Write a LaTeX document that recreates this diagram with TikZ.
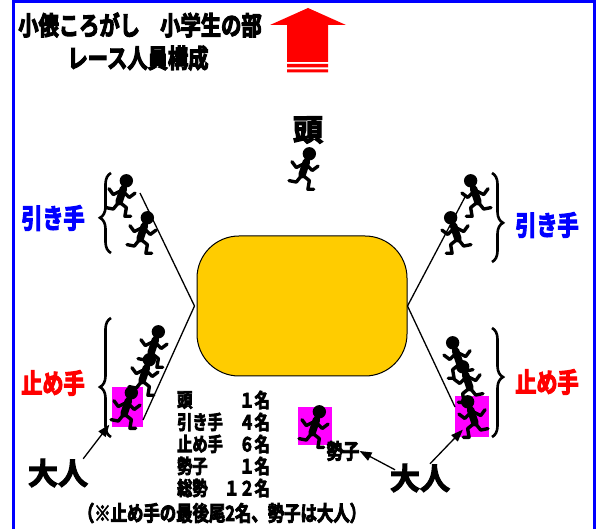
\documentclass[tikz,border=0pt]{standalone}
\usepackage{fontspec}
\newfontfamily\jp{Noto Sans CJK JP Bold}[FakeBold=4]
\newfontfamily\jpn{Noto Sans CJK JP Bold}[FakeStretch=0.78,FakeBold=4]
\usetikzlibrary{arrows.meta,decorations.pathreplacing}
\definecolor{tawara}{RGB}{255,204,0}
\definecolor{sekopink}{RGB}{255,0,255}
\tikzset{
	runner/.pic={
		\fill (3,-10.5) circle (4.6pt);
		\draw[line width=7.5pt,line cap=round] (1,-5) -- (-2,4);
		\draw[line width=3.4pt,line join=round,line cap=round]
			(0,-4) -- (-6,-1) -- (-9,-5)
			(0,-4) -- (5,1) -- (9,-2)
			(-2,4) -- (3,8) -- (2,14) -- (6,14)
			(-2,4) -- (-6,9) -- (-11,8);
	},
	bracket/.style={decorate,decoration={brace,amplitude=11pt,aspect=#1},line width=2.6pt},
	pinkbox/.style={fill=sekopink,inner sep=0pt},
	rope/.style={line width=1.3pt},
	pointer/.style={line width=1.3pt,-{Triangle[length=12pt,width=9pt]}},
}
\begin{document}
\begin{tikzpicture}[x=1pt,y=-1pt]
				\useasboundingbox (0,0) rectangle (600,529);
				%frame
				\draw[blue,line width=3pt] (13,529) -- (13,1.5) -- (594,1.5) -- (594,529);
				
				%title
				\node[font=\jpn\fontsize{26}{30}\selectfont] (title1) at (140,25){小俵ころがし　小学生の部};
				\node[font=\jpn\fontsize{26}{30}\selectfont] (title2) at (138,58){レース人員構成};
				
				%direction arrow
				\fill[red] (308,8) -- (346,25) -- (328,25) -- (328,62) -- (287,62) -- (287,25) -- (270,25) -- cycle;
				\fill[red] (287,64) rectangle (328,67.5) (287,69.5) rectangle (328,72.5);
				
				%tawara
				\node[draw,fill=tawara,line width=1pt,rounded corners=42pt,minimum width=210pt,minimum height=140pt] (tawara) at (302,306){};
				\node[pinkbox,minimum width=31pt,minimum height=39pt] (pinkL) at (127,407){};
				\node[pinkbox,minimum width=34pt,minimum height=38pt] (pinkC) at (315,426){};
				\node[pinkbox,minimum width=34pt,minimum height=41pt] (pinkR) at (472,416){};
				
				%ropes
				\coordinate (ropeLU) at (140,193);
				\coordinate (ropeLD) at (143,420);
				\coordinate (ropeRU) at (465,197);
				\coordinate (ropeRD) at (455,407);
				\foreach \r in {LU, LD}{
					\draw[rope] ([xshift=-2pt]tawara.west) -- (rope\r);
				}
				\foreach \r in {RU, RD}{
					\draw[rope] (tawara.east) -- (rope\r);
				}
				
				%runners
				\foreach \x/\y/\s in {305/169/1, 122/196/1, 143/233/1, 154/347/1, 145/375/1, 127/408/1, 315/427/1, 475/196/-1, 455/233/-1, 457/358/-1, 467/382/-1, 472/417/-1}{
					\pic[xscale=1.45*\s,yscale=1.45] at (\x,\y) {runner};
				}
				
				%braces
				\draw[bracket=0.44] (111,253) -- (111,173);
				\draw[bracket=0.42] (111,437) -- (111,318);
				\draw[bracket=0.56] (492,173) -- (492,262);
				\draw[bracket=0.45] (492,328) -- (492,437);
				
				\node[font=\jpn\fontsize{27}{30}\selectfont,text=blue] (pullL) at (53,218){引き手};
				\node[font=\jpn\fontsize{27}{30}\selectfont,text=blue] (pullR) at (547,225){引き手};
				\node[font=\jpn\fontsize{27}{30}\selectfont,text=red] (stopL) at (53,383){止め手};
				\node[font=\jpn\fontsize{27}{30}\selectfont,text=red] (stopR) at (547,382){止め手};
				\node[font=\jp\fontsize{30}{32}\selectfont] (head) at (308,130){頭};
				
				%member list
				\foreach \n/\role/\num in {0/頭/１名, 1/引き手/４名, 2/止め手/６名, 3/勢子/１名, 4/総勢/１２名}{
					\node[font=\jpn\fontsize{19.5}{22}\selectfont,anchor=west,inner sep=0pt] (role\n) at (177,400+22*\n){\role};
					\node[font=\jpn\fontsize{19.5}{22}\selectfont,anchor=east,inner sep=0pt] (num\n) at (270,400+22*\n){\num};
				}
				\node[font=\jpn\fontsize{21}{24}\selectfont] (note) at (222,513){（※止め手の最後尾2名、勢子は大人）};
				
				%adults
				\node[font=\jpn\fontsize{21}{22}\selectfont,inner sep=0pt] (seko) at (343,451){勢子};
				\node[font=\jp\fontsize{30}{32}\selectfont,inner sep=0pt] (adultL) at (58,473){大人};
				\node[font=\jp\fontsize{30}{32}\selectfont,inner sep=0pt] (adultR) at (420,478){大人};
				\draw[pointer] ([xshift=-5pt]adultL.north east) -- ([xshift=-2pt,yshift=2pt]pinkL.south west);
				\draw[pointer] ([xshift=-25pt,yshift=-6pt]adultR.north) -- (seko.east);
				\draw[pointer] ([xshift=10pt]adultR.north) -- ([xshift=8pt,yshift=7pt]pinkR.south west);
			\end{tikzpicture}
\end{document}
